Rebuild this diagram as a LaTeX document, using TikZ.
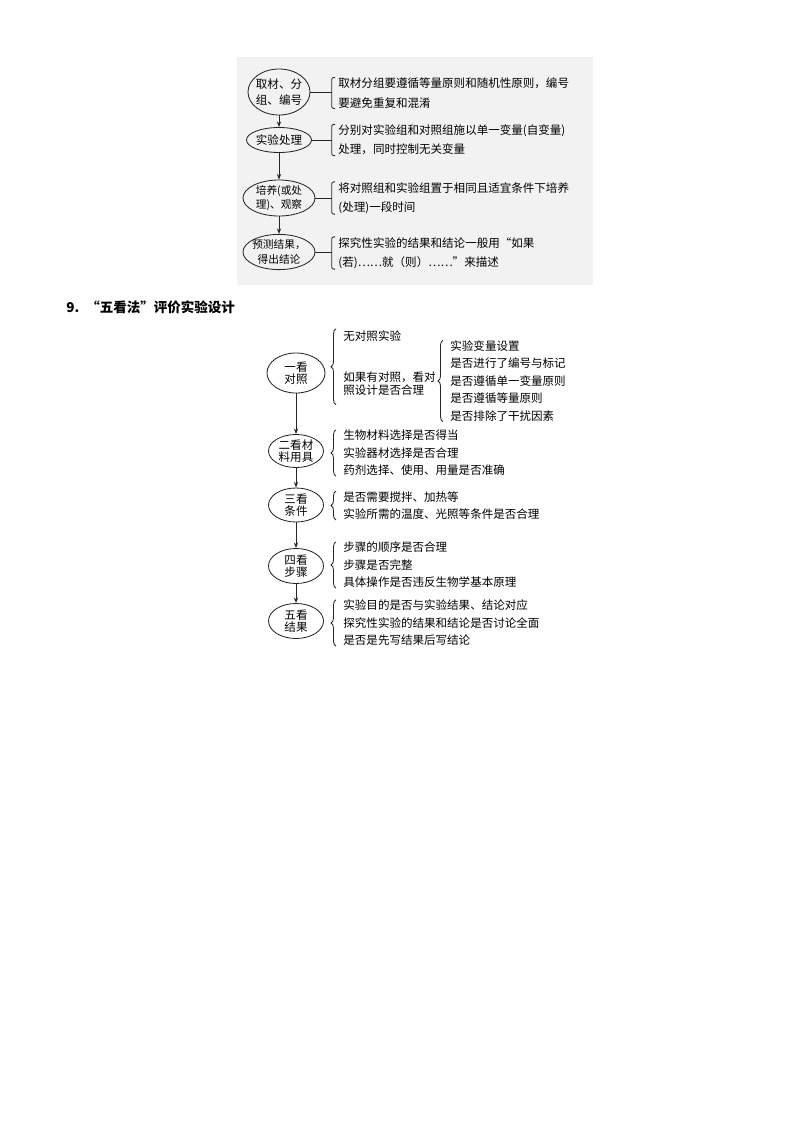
\documentclass[tikz,border=0pt]{standalone}
\usepackage{fontspec}
\setmainfont{Noto Sans CJK SC}
\usetikzlibrary{shapes.geometric}
\usetikzlibrary{arrows.meta}
\usetikzlibrary{decorations.pathreplacing}

\tikzset{
  oval/.style={draw, ellipse, inner sep=0pt},
  lbl/.style={align=center, inner sep=0pt, font=\fontsize{8.2}{11.4}\selectfont},
  lblsmall/.style={align=center, inner sep=0pt, font=\fontsize{7.6}{10.2}\selectfont},
  lbltwo/.style={align=center, inner sep=0pt, font=\fontsize{8.2}{8.8}\selectfont},
  note/.style={anchor=west, align=left, inner sep=0pt, font=\fontsize{8.2}{13.8}\selectfont},
  item/.style={anchor=west, align=left, inner sep=0pt, font=\fontsize{8.2}{12.4}\selectfont},
  flow/.style={-{Stealth[length=4pt,width=3pt]}},
  curly/.style={decorate, decoration={brace, amplitude=3.5pt}},
}

\begin{document}
\begin{tikzpicture}[x=0.025cm, y=0.025cm, line width=0.6pt, draw=black!85]
    \useasboundingbox (0,0) rectangle (800,-1132);
    % scanned figure
    \fill [black!5] (237,-57) rectangle (593,-285);
    \node [oval, minimum width=1.55cm, minimum height=1.15cm, label={[lbl]center:取材、分\\组、编号}] (e1) at (279,-92) {};
    \node [oval, minimum width=1.625cm, minimum height=0.625cm, label={[lbl]center:实验处理}] (e2) at (279,-140) {};
    \node [oval, minimum width=1.8cm, minimum height=0.9cm, label={[lblsmall]center:培养(或处\\理)、观察}] (e3) at (279,-198) {};
    \node [oval, minimum width=1.8cm, minimum height=0.88cm, label={[lblsmall]center:预测结果，\\得出结论}] (e4) at (279,-252) {};
    \draw [flow] (e1) -- (e2);
    \draw [flow] (e2) -- (e3);
    \draw [flow] (e3) -- (e4);
    \node [note] (t1) at (338,-93) {取材分组要遵循等量原则和随机性原则，编号\\要避免重复和混淆};
    \node [note] (t2) at (338,-140) {分别对实验组和对照组施以单一变量(自变量)\\处理，同时控制无关变量};
    \node [note] (t3) at (338,-198) {将对照组和实验组置于相同且适宜条件下培养\\(处理)一段时间};
    \node [note] (t4) at (338,-253) {探究性实验的结果和结论一般用“如果\\(若)……就（则）……”来描述};
    \coordinate (b1) at ([xshift=-4.5pt]t1.west);
    \coordinate (b2) at ([xshift=-4.5pt]t2.west);
    \coordinate (b3) at ([xshift=-4.5pt]t3.west);
    \coordinate (b4) at ([xshift=-4.5pt]t4.west);
    \draw [rounded corners=1.5pt] ([xshift=-2pt]t1.north west) -- ([xshift=-4.5pt]t1.north west) -- ([xshift=-4.5pt]t1.south west) -- ([xshift=-2pt]t1.south west);
    \draw [rounded corners=1.5pt] ([xshift=-2pt]t2.north west) -- ([xshift=-4.5pt]t2.north west) -- ([xshift=-4.5pt]t2.south west) -- ([xshift=-2pt]t2.south west);
    \draw [rounded corners=1.5pt] ([xshift=-2pt]t3.north west) -- ([xshift=-4.5pt]t3.north west) -- ([xshift=-4.5pt]t3.south west) -- ([xshift=-2pt]t3.south west);
    \draw [rounded corners=1.5pt] ([xshift=-2pt]t4.north west) -- ([xshift=-4.5pt]t4.north west) -- ([xshift=-4.5pt]t4.south west) -- ([xshift=-2pt]t4.south west);
    \draw (e1.east) -- (e1.east -| b1);
    \draw (e2.east) -- (e2.east -| b2);
    \draw (e3.east) -- (e3.east -| b3);
    \draw (e4.east) -- (e4.east -| b4);
    % heading
    \node [anchor=west, inner sep=0pt, font=\bfseries\fontsize{9.6}{11}\selectfont] (head) at (66,-307) {9.\hspace{5pt}“五看法”评价实验设计};
    % five checks
    \node [oval, minimum width=1.45cm, minimum height=1.0cm, label={[lbltwo]center:一看\\对照}] (k1) at (296,-373) {};
    \node [oval, minimum width=1.375cm, minimum height=0.825cm, label={[lbltwo]center:二看材\\料用具}] (k2) at (296,-451) {};
    \node [oval, minimum width=1.375cm, minimum height=0.85cm, label={[lbltwo]center:三看\\条件}] (k3) at (296,-505) {};
    \node [oval, minimum width=1.375cm, minimum height=0.875cm, label={[lbltwo]center:四看\\步骤}] (k4) at (296,-566) {};
    \node [oval, minimum width=1.375cm, minimum height=0.875cm, label={[lbltwo]center:五看\\结果}] (k5) at (296,-621) {};
    \draw [flow] (k1) -- (k2);
    \draw [flow] (k2) -- (k3);
    \draw [flow] (k3) -- (k4);
    \draw [flow] (k4) -- (k5);
    \node [item] (c1a) at (343,-336) {无对照实验};
    \node [item, font=\fontsize{8.2}{9.2}\selectfont] (c1b) at (343,-384) {如果有对照，看对\\照设计是否合理};
    \node [item] (c1c) at (450,-381) {实验变量设置\\是否进行了编号与标记\\是否遵循单一变量原则\\是否遵循等量原则\\是否排除了干扰因素};
    \node [item] (c2) at (343,-453) {生物材料选择是否得当\\实验器材选择是否合理\\药剂选择、使用、用量是否准确};
    \node [item] (c3) at (343,-505.5) {是否需要搅拌、加热等\\实验所需的温度、光照等条件是否合理};
    \node [item] (c4) at (343,-565) {步骤的顺序是否合理\\步骤是否完整\\具体操作是否违反生物学基本原理};
    \node [item] (c5) at (343,-623) {实验目的是否与实验结果、结论对应\\探究性实验的结果和结论是否讨论全面\\是否是先写结果后写结论};
    \draw [curly] ([xshift=-5pt,yshift=-6pt]c1b.south west) -- ([xshift=-5pt,yshift=1pt]c1a.north west);
    \draw [curly] ([xshift=-5pt]c1c.south west) -- ([xshift=-5pt]c1c.north west);
    \draw [curly] ([xshift=-5pt]c2.south west) -- ([xshift=-5pt]c2.north west);
    \draw [curly] ([xshift=-5pt]c3.south west) -- ([xshift=-5pt]c3.north west);
    \draw [curly] ([xshift=-5pt]c4.south west) -- ([xshift=-5pt]c4.north west);
    \draw [curly] ([xshift=-5pt]c5.south west) -- ([xshift=-5pt]c5.north west);
\end{tikzpicture}
\end{document}
